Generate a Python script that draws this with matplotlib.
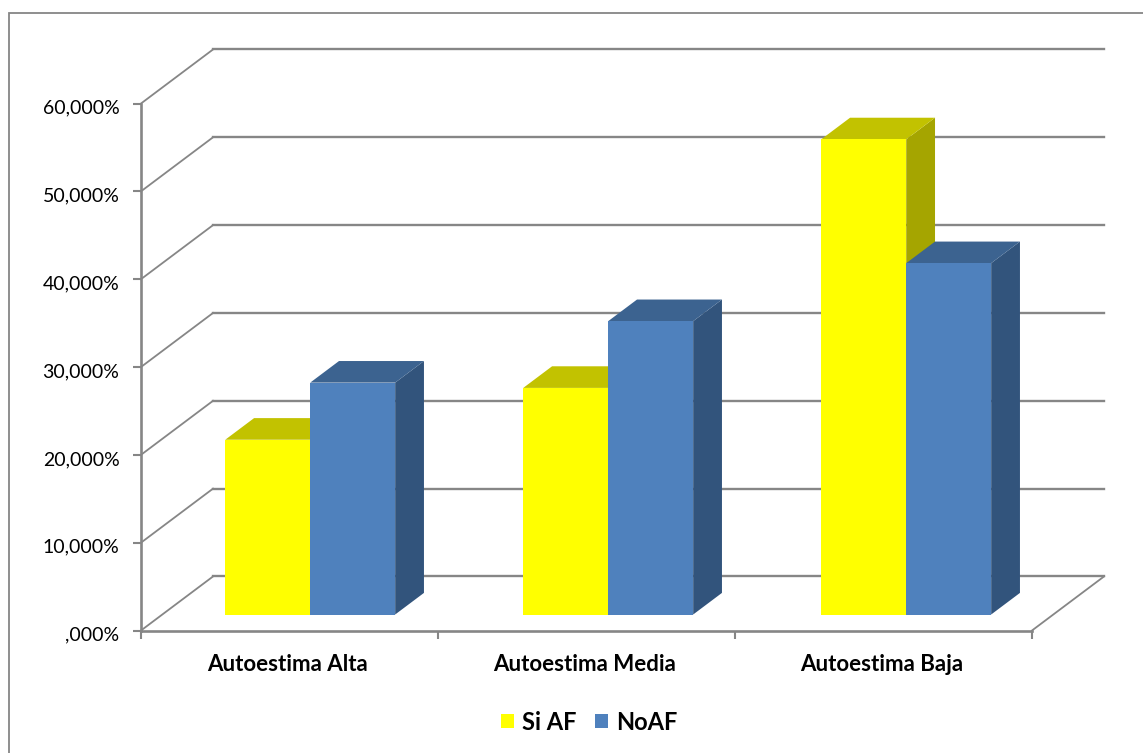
import matplotlib
matplotlib.use('Agg')
import matplotlib.pyplot as plt
from matplotlib.patches import Patch, Polygon, Rectangle
from matplotlib.transforms import ScaledTranslation

plt.rcParams['font.family'] = ['Lato', 'DejaVu Sans']

# Chart data (percent)
categories = ['Autoestima Alta', 'Autoestima Media', 'Autoestima Baja']
si_af = [19.9, 25.8, 54.1]
no_af = [26.4, 33.4, 40.0]
y_ticks = [0, 10, 20, 30, 40, 50, 60]
y_labels = [',000%', '10,000%', '20,000%', '30,000%', '40,000%', '50,000%', '60,000%']

W, H = 1143, 753
GRAY = '#868686'

# Shift of the back wall from the front plane, in data units
DEPTH_X = 72 / 297
DEPTH_Y = 54 / 8.78
# Where the bars sit inside the depth of the box
BAR_FRONT = 0.296
BAR_BACK = 0.696
BAR_W = 0.286
BAR_START = 0.212
GROUP_STEP = 298 / 297

fig = plt.figure(figsize=(W / 100, H / 100), dpi=100)
ax = fig.add_axes([141 / W, 1 - 630.5 / H, 891 / W, 527 / H])
ax.set_xlim(0, 3)
ax.set_ylim(0, 60)
ax.patch.set_alpha(0)

# Outer chart frame, runs off the right and bottom edges
fig.add_artist(Rectangle((8.5 / W, -0.1), 1.2, 1.1 - 13 / H, transform=fig.transFigure,
                         fill=False, edgecolor=GRAY, linewidth=1.3))

# Back wall gridlines and the diagonals joining them to the front axis
for v in y_ticks:
    ax.plot([0, DEPTH_X], [v, v + DEPTH_Y], color=GRAY, lw=1.3, clip_on=False, zorder=1)
    ax.plot([DEPTH_X, 3 + DEPTH_X], [v + DEPTH_Y, v + DEPTH_Y], color=GRAY, lw=1.7,
            clip_on=False, zorder=1)
ax.plot([3, 3 + DEPTH_X], [0, DEPTH_Y], color=GRAY, lw=1.3, clip_on=False, zorder=1)


def draw_bars(values, start, front, top, side, z):
    for i, v in enumerate(values):
        x0 = i * GROUP_STEP + start + BAR_FRONT * DEPTH_X
        x1 = x0 + BAR_W
        y0 = BAR_FRONT * DEPTH_Y
        y1 = y0 + v
        dx = (BAR_BACK - BAR_FRONT) * DEPTH_X
        dy = (BAR_BACK - BAR_FRONT) * DEPTH_Y
        ax.add_patch(Polygon([(x1, y0), (x1 + dx, y0 + dy), (x1 + dx, y1 + dy), (x1, y1)],
                             facecolor=side, edgecolor='none', zorder=z, clip_on=False))
        ax.add_patch(Polygon([(x0, y1), (x0 + dx, y1 + dy), (x1 + dx, y1 + dy), (x1, y1)],
                             facecolor=top, edgecolor='none', zorder=z, clip_on=False))
        ax.bar(x0, v, width=BAR_W, bottom=y0, align='edge', color=front, zorder=z + 0.1,
               clip_on=False)


draw_bars(si_af, BAR_START, '#FFFF00', '#C2C200', '#A5A500', 2)
draw_bars(no_af, BAR_START + BAR_W, '#4F81BD', '#3C6390', '#32547C', 3)

# Axes
for s in ['top', 'right']:
    ax.spines[s].set_visible(False)
for s in ['left', 'bottom']:
    ax.spines[s].set_color(GRAY)
    ax.spines[s].set_linewidth(1.9)
    ax.spines[s].set_zorder(4)

ax.set_yticks(y_ticks)
ax.set_yticklabels(y_labels, fontsize=14, color='black')
ax.tick_params(axis='y', length=6, width=1.5, color=GRAY, pad=9.5)
# y labels sit slightly below their tick
nudge = ScaledTranslation(0, -2.2 / 72, fig.dpi_scale_trans)
for label in ax.get_yticklabels():
    label.set_transform(label.get_transform() + nudge)
ax.set_xticks([0, 1, 2, 3])
ax.set_xticklabels([])
ax.tick_params(axis='x', which='major', length=6, width=1.5, color=GRAY)
ax.set_xticks([0.494, 1.494, 2.494], minor=True)
ax.set_xticklabels(categories, minor=True, fontsize=16, fontweight='bold')
ax.tick_params(axis='x', which='minor', length=0, pad=17)

handles = [Patch(facecolor='#FFFF00', label='Si AF'), Patch(facecolor='#4F81BD', label='NoAF')]
fig.legend(handles=handles, ncol=2, loc='center', bbox_to_anchor=(589 / W, 1 - 722 / H),
           frameon=False, prop={'size': 17, 'weight': 'bold'}, handlelength=0.55,
           handleheight=0.55, handletextpad=0.34, columnspacing=0.8)

fig.savefig('out.png', dpi=100)
